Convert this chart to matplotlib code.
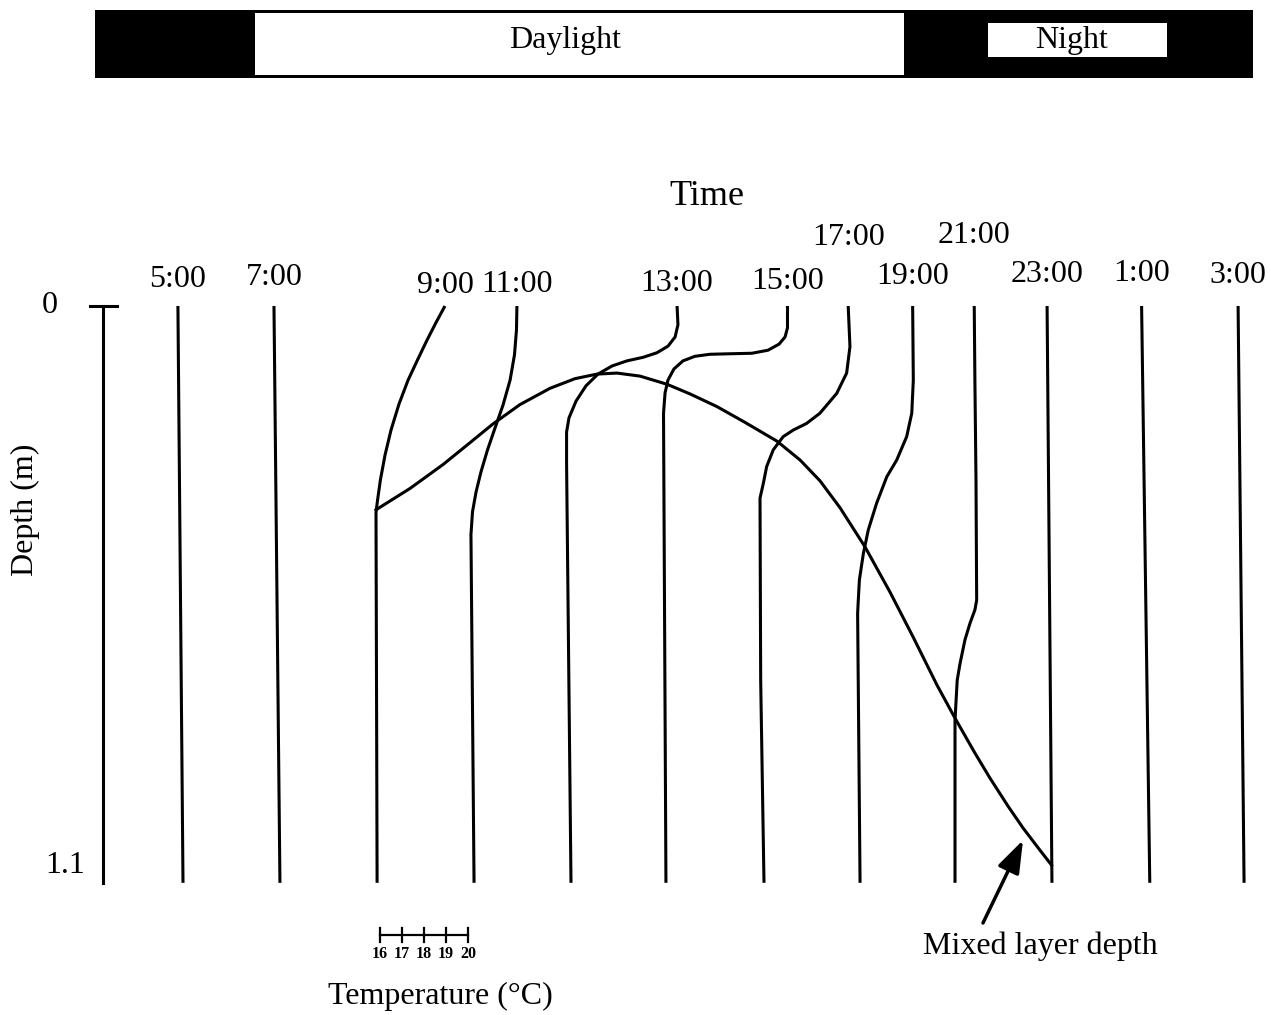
import numpy as np
import matplotlib.pyplot as plt
from matplotlib.patches import Rectangle

plt.rcParams['font.family'] = ['Liberation Serif', 'DejaVu Serif']

# profile times in hours (25 = 1:00, 27 = 3:00 next day)
times = [5, 7, 9, 11, 13, 15, 17, 19, 21, 23, 25, 27]
time_labels = ['5:00', '7:00', '9:00', '11:00', '13:00', '15:00',
               '17:00', '19:00', '21:00', '23:00', '1:00', '3:00']

# temperature profiles, depth (m) / temperature (C)
d_0500 = [0.0, 1.135]
t_0500 = [15.77, 16.0]
d_0700 = [0.0, 1.135]
t_0700 = [15.75, 16.02]
d_0900 = [0.0, 0.033, 0.067, 0.106, 0.146, 0.193, 0.244, 0.293, 0.342, 0.382, 0.406, 1.135]
t_0900 = [19.12, 18.71, 18.31, 17.88, 17.45, 17.04, 16.68, 16.41, 16.20, 16.07, 16.0, 16.05]
d_1100 = [0.0, 0.047, 0.096, 0.146, 0.195, 0.240, 0.283, 0.327, 0.366, 0.405, 0.450, 1.135]
t_1100 = [18.01, 17.99, 17.90, 17.70, 17.38, 17.02, 16.68, 16.38, 16.16, 16.0, 15.93, 16.07]
d_1300 = [0.0, 0.037, 0.061, 0.079, 0.092, 0.101, 0.108, 0.118, 0.134, 0.157, 0.187,
          0.220, 0.248, 0.309, 1.135]
t_1300 = [20.89, 20.93, 20.80, 20.48, 19.98, 19.35, 18.62, 17.95, 17.31, 16.77, 16.32,
          16.0, 15.89, 15.89, 16.09]
d_1500 = [0.0, 0.043, 0.061, 0.075, 0.087, 0.093, 0.094, 0.095, 0.099, 0.108, 0.124,
          0.146, 0.171, 0.211, 1.135]
t_1500 = [21.52, 21.52, 21.41, 21.14, 20.64, 19.91, 18.92, 18.01, 17.33, 16.79, 16.38,
          16.11, 15.98, 15.91, 16.02]
d_1700 = [0.0, 0.080, 0.132, 0.172, 0.211, 0.231, 0.244, 0.257, 0.283, 0.316, 0.349,
          0.378, 0.736, 1.135]
t_1700 = [19.90, 19.98, 19.83, 19.38, 18.62, 18.02, 17.42, 16.96, 16.51, 16.21, 16.06,
          15.91, 15.94, 16.09]
d_1900 = [0.0, 0.146, 0.211, 0.257, 0.303, 0.336, 0.388, 0.441, 0.487, 0.539, 0.579,
          0.605, 1.135]
t_1900 = [18.45, 18.48, 18.41, 18.18, 17.73, 17.28, 16.82, 16.44, 16.22, 16.04, 15.99,
          15.96, 16.07]
d_2100 = [0.0, 0.146, 0.343, 0.579, 0.598, 0.624, 0.657, 0.703, 0.736, 0.815, 1.135]
t_2100 = [16.87, 16.90, 16.95, 16.98, 16.90, 16.68, 16.45, 16.23, 16.10, 16.0, 16.0]
d_2300 = [0.0, 1.135]
t_2300 = [15.80, 16.02]
d_0100 = [0.0, 1.135]
t_0100 = [15.71, 16.08]
d_0300 = [0.0, 1.135]
t_0300 = [15.71, 15.98]

depths = [d_0500, d_0700, d_0900, d_1100, d_1300, d_1500,
          d_1700, d_1900, d_2100, d_2300, d_0100, d_0300]
temps = [t_0500, t_0700, t_0900, t_1100, t_1300, t_1500,
         t_1700, t_1900, t_2100, t_2300, t_0100, t_0300]

# mixed layer depth vs time
mld_time = [9.0, 9.705, 10.389, 10.948, 11.425, 11.984, 12.606, 13.124, 13.580, 13.995,
            14.472, 15.031, 15.508, 16.067, 16.648, 17.311, 17.788, 18.202, 18.617, 19.135,
            19.653, 20.130, 20.627, 21.0, 21.415, 21.725, 22.098, 22.409, 22.762, 23.0]
mld_depth = [0.401, 0.359, 0.312, 0.269, 0.232, 0.194, 0.162, 0.143, 0.134, 0.132,
             0.138, 0.154, 0.173, 0.198, 0.229, 0.266, 0.303, 0.344, 0.397, 0.474,
             0.563, 0.651, 0.746, 0.811, 0.880, 0.929, 0.984, 1.027, 1.071, 1.100]

sunrise = 6.5
sunset = 19.95
scale_temps = [16, 17, 18, 19, 20]

# layout
k = 0.458            # hours of width per degree C
label_dy = [-0.037, -0.041, -0.026, -0.028, -0.030, -0.033,
            -0.120, -0.043, -0.124, -0.047, -0.049, -0.045]
lw = 2.2
fs = 23

fig = plt.figure(figsize=(12.71, 10.15), dpi=100)
ax = fig.add_axes([0, 0, 1, 1])
ax.set_xlim(1.2073, 27.549)
ax.set_ylim(1.3951, -0.6021)
ax.axis('off')

for t0, lab, d, T, dy in zip(times, time_labels, depths, temps, label_dy):
    x = t0 + (np.array(T) - 16) * k
    ax.plot(x, d, color='black', lw=lw, solid_capstyle='butt', solid_joinstyle='round')
    ax.text(x[0], dy, lab, ha='center', va='baseline', fontsize=fs)

ax.plot(mld_time, mld_depth, color='black', lw=lw, solid_joinstyle='round')

# depth axis
ax.plot([3.342, 3.342], [0, 1.135], color='black', lw=lw)
ax.plot([3.07, 3.63], [0, 0], color='black', lw=lw)
ax.text(2.244, 0, '0', ha='center', va='center', fontsize=fs)
ax.text(2.554, 1.1, '1.1', ha='center', va='center', fontsize=fs)
ax.text(1.725, 0.401, 'Depth (m)', rotation=90, ha='center', va='center', fontsize=fs)
ax.text(15.86, -0.216, 'Time', ha='center', va='center', fontsize=26)

# temperature scale bar
sx = 9.08 + (np.array(scale_temps) - 16) * k
ax.plot([sx[0], sx[-1]], [1.238, 1.238], color='black', lw=1.6)
for xx, tt in zip(sx, scale_temps):
    ax.plot([xx, xx], [1.224, 1.252], color='black', lw=1.6)
    ax.text(xx, 1.275, str(tt), ha='center', va='center', fontsize=11.5, fontweight='bold')
ax.text(10.33, 1.358, 'Temperature (\u00b0C)', ha='center', va='center', fontsize=fs)

# arrow + label
ax.annotate('', xy=(22.41, 1.051), xytext=(21.58, 1.214),
            arrowprops=dict(arrowstyle='-|>,head_length=1.0,head_width=0.35',
                            mutation_scale=20, lw=2.5, color='black',
                            shrinkA=0, shrinkB=0))
ax.text(22.76, 1.259, 'Mixed layer depth', ha='center', va='center', fontsize=fs)

# day / night bar
bx = fig.add_axes([0, 1 - 78 / 1015, 1, 68 / 1015])
bx.set_xlim(1.2073, 27.549)
bx.set_ylim(0, 1)
bx.axis('off')
bar_start = 3.18
bx.add_patch(Rectangle((bar_start, 0), 24, 1, facecolor='black', edgecolor='none'))
bx.add_patch(Rectangle((sunrise, 0.05), sunset - sunrise, 0.9, facecolor='white', edgecolor='none'))
bx.add_patch(Rectangle((21.68, 0.31), 3.71, 0.5, facecolor='white', edgecolor='none'))
bx.text((sunrise + sunset) / 2 - 0.3, 0.55, 'Daylight', ha='center', va='center', fontsize=fs)
bx.text(23.42, 0.55, 'Night', ha='center', va='center', fontsize=fs)

fig.savefig('out.png', dpi=100)
